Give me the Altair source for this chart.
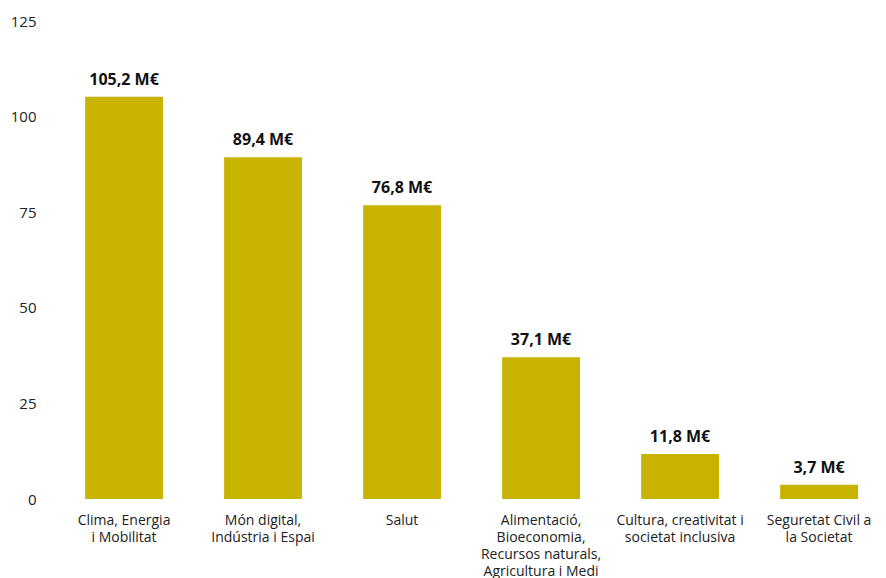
import altair as alt
import pandas as pd

categories = [
    "Clima, Energia|i Mobilitat",
    "Món digital,|Indústria i Espai",
    "Salut",
    "Alimentació,|Bioeconomia,|Recursos naturals,|Agricultura i Medi|Ambient",
    "Cultura, creativitat i|societat inclusiva",
    "Seguretat Civil a|la Societat",
]
values = [105.2, 89.4, 76.8, 37.1, 11.8, 3.7]
labels = [f"{v:.1f}".replace(".", ",") + " M€" for v in values]

df = pd.DataFrame({"cat": categories, "val": values, "lab": labels})

FONT = "Open Sans"

base = alt.Chart(df).encode(
    x=alt.X(
        "cat:N",
        sort=None,
        title=None,
        scale=alt.Scale(paddingInner=0.44, paddingOuter=0.0975, align=1),
        axis=alt.Axis(
            labelAngle=0,
            labelExpr="split(datum.label, '|')",
            labelFont=FONT,
            labelFontSize=14,
            labelColor="#222222",
            labelLineHeight=17,
            labelBaseline="top",
            labelPadding=14,
            labelLimit=300,
            domain=False,
            ticks=False,
            grid=False,
        ),
    ),
    y=alt.Y(
        "val:Q",
        title=None,
        scale=alt.Scale(domain=[0, 125], nice=False),
        axis=alt.Axis(
            values=[0, 25, 50, 75, 100, 125],
            labelFont=FONT,
            labelFontSize=15,
            labelColor="#222222",
            labelPadding=22,
            domain=False,
            ticks=False,
            grid=False,
        ),
    ),
)

bars = base.mark_bar(color="#c8b400")
text = base.mark_text(
    dy=-9, baseline="bottom", font=FONT, fontSize=16, fontWeight="bold", color="#111111"
).encode(text="lab:N")

chart = (
    (bars + text)
    .properties(
        width=800,
        height=478,
        autosize=alt.AutoSizeParams(type="none"),
        padding={"left": 50, "top": 13, "right": 20, "bottom": 79},
    )
    .configure_view(stroke=None)
)

chart.save("out.html", embed_options={"renderer": "svg", "actions": False})
